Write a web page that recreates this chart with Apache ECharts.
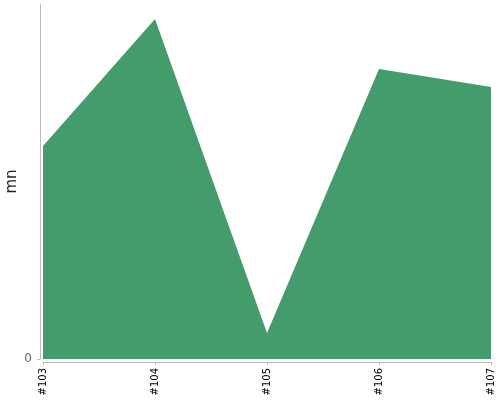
<!DOCTYPE html>
<html>
<head>
<meta charset="utf-8">
<script src="https://cdn.jsdelivr.net/npm/echarts@6/dist/echarts.min.js"></script>
<style>html,body{margin:0;padding:0;background:#fff}#c{width:500px;height:400px}</style>
</head>
<body>
<div id="c"></div>
<script>
const categories = ['#103', '#104', '#105', '#106', '#107'];
const values = [60, 95.8, 7.3, 81.7, 76.6];
const yTicks = [0];
const yMax = 100;

const chart = echarts.init(document.getElementById('c'), null, {renderer: 'canvas'});
chart.setOption({
  animation: false,
  grid: {left: 43, right: 9, top: 4, bottom: 41, containLabel: false, outerBoundsMode: 'none'},
  xAxis: {
    type: 'category',
    data: categories,
    boundaryGap: false,
    offset: 3,
    axisLine: {show: true, onZero: false, lineStyle: {color: '#bbb', width: 1}},
    axisTick: {show: true, length: 3, lineStyle: {color: '#bbb'}},
    axisLabel: {rotate: 90, fontSize: 10, color: '#000', fontFamily: 'DejaVu Sans', margin: 6}
  },
  yAxis: {
    type: 'value',
    min: 0,
    max: yMax,
    offset: 3,
    name: 'mn',
    nameLocation: 'middle',
    nameGap: 20,
    nameMoveOverlap: false,
    nameTextStyle: {fontSize: 15, color: '#222', fontFamily: 'DejaVu Sans'},
    axisLine: {show: true, lineStyle: {color: '#bbb'}},
    axisTick: {show: true, length: 3, customValues: yTicks, lineStyle: {color: '#bbb'}},
    splitLine: {show: false},
    axisLabel: {fontSize: 12, color: '#666', fontFamily: 'DejaVu Sans', margin: 8,
      customValues: yTicks}
  },
  series: [{
    type: 'line',
    data: values,
    symbol: 'none',
    lineStyle: {width: 0},
    areaStyle: {color: '#449c6c', opacity: 1}
  }]
});
</script>
</body>
</html>
